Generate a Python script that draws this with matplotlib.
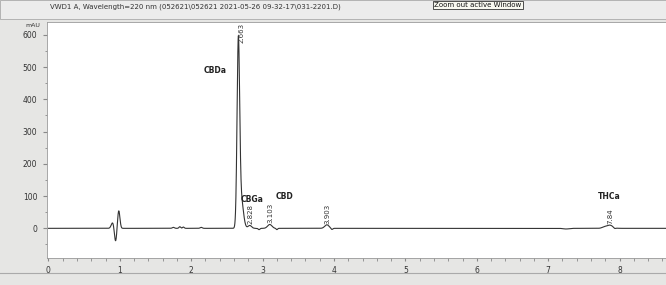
import numpy as np
import matplotlib
matplotlib.use("Agg")
import matplotlib.pyplot as plt

# peaks (min, mAU, width)
peak_times = [0.90, 0.94, 0.985, 1.75, 1.84, 1.89, 2.14, 2.66, 2.70, 2.82, 2.95, 3.10, 3.20, 3.90, 3.97, 7.25, 7.78, 7.86, 7.93]
peak_heights = [18, -42, 55, 3, 5, 4, 3, 560, 90, 9, -4, 12, -4, 11, -4, -2, 3, 10, -3]
peak_widths = [0.02, 0.016, 0.016, 0.015, 0.012, 0.012, 0.015, 0.018, 0.03, 0.025, 0.012, 0.03, 0.01, 0.03, 0.012, 0.04, 0.03, 0.045, 0.015]

compound_names = ["CBDa", "CBGa", "CBD", "THCa"]
compound_x = [2.34, 2.85, 3.30, 7.85]
compound_y = [490, 88, 100, 100]

rt_labels = ["2.663", "2.828", "3.103", "3.903", "7.84"]
rt_x = [2.70, 2.83, 3.11, 3.91, 7.87]
rt_y = [636, 12, 16, 15, 14]
rt_va = ["top", "bottom", "bottom", "bottom", "bottom"]

x_ticks = [0, 1, 2, 3, 4, 5, 6, 7, 8]
y_ticks = [0, 100, 200, 300, 400, 500, 600]

t = np.linspace(0, 8.65, 6000)
signal = np.zeros_like(t)
for tp, h, w in zip(peak_times, peak_heights, peak_widths):
    signal += h * np.exp(-0.5 * ((t - tp) / w) ** 2)

bg = "#e6e6e4"
fig = plt.figure(figsize=(6.66, 2.85), dpi=100, facecolor=bg)

W, H = 666, 285
ax = fig.add_axes([47 / W, 27 / H, (W - 47) / W, 236 / H])
ax.set_facecolor("white")
ax.plot(t, signal, color="#333333", lw=0.8)
ax.set_xlim(-0.02, 8.65)
ax.set_ylim(-92, 640)

ax.set_xticks(x_ticks)
ax.set_xticklabels([str(v) for v in x_ticks], fontsize=5.5, color="#333333")
ax.set_yticks(y_ticks)
ax.set_yticklabels([str(v) for v in y_ticks], fontsize=5.5, color="#333333")
ax.set_yticks(np.arange(-50, 640, 50), minor=True)
ax.set_xticks(np.arange(0, 8.65, 0.2), minor=True)
ax.tick_params(axis="x", which="both", direction="out", length=2, pad=4, color="#888888")
ax.tick_params(axis="y", which="major", direction="out", length=3, pad=4, color="#888888")
ax.tick_params(axis="y", which="minor", direction="out", length=1.5, color="#888888")
for s in ax.spines.values():
    s.set_color("#999999")
    s.set_linewidth(0.6)

for name, x, y in zip(compound_names, compound_x, compound_y):
    ax.text(x, y, name, fontsize=5.5, fontweight="bold", ha="center", va="center", color="#222222")
for lab, x, y, va in zip(rt_labels, rt_x, rt_y, rt_va):
    ax.text(x, y, lab, fontsize=5, rotation=90, ha="center", va=va, color="#333333")

ax.text(-0.22, 638, "mAU", fontsize=4.5, ha="center", va="top", color="#333333", clip_on=False)

# title bar
fig.patches.append(plt.Rectangle((0, 1 - 19 / H), 1, 19 / H, transform=fig.transFigure,
                                 facecolor="#ececec", edgecolor="#aaaaaa", lw=0.6))
fig.text(50 / W, 1 - 7 / H, "VWD1 A, Wavelength=220 nm (052621\\052621 2021-05-26 09-32-17\\031-2201.D)",
         fontsize=5, ha="left", va="center", color="#333333")
fig.text(478 / W, 1 - 5 / H, "Zoom out active Window", fontsize=5, ha="center", va="center",
         color="#111111", bbox=dict(boxstyle="square,pad=0.2", fc="#f8f8f0", ec="#333333", lw=0.6))

# bottom strip line
fig.add_artist(plt.Line2D([0, 1], [12 / H, 12 / H], color="#aaaaaa", lw=0.8, transform=fig.transFigure))

fig.savefig("out.png", dpi=100, facecolor=bg)
